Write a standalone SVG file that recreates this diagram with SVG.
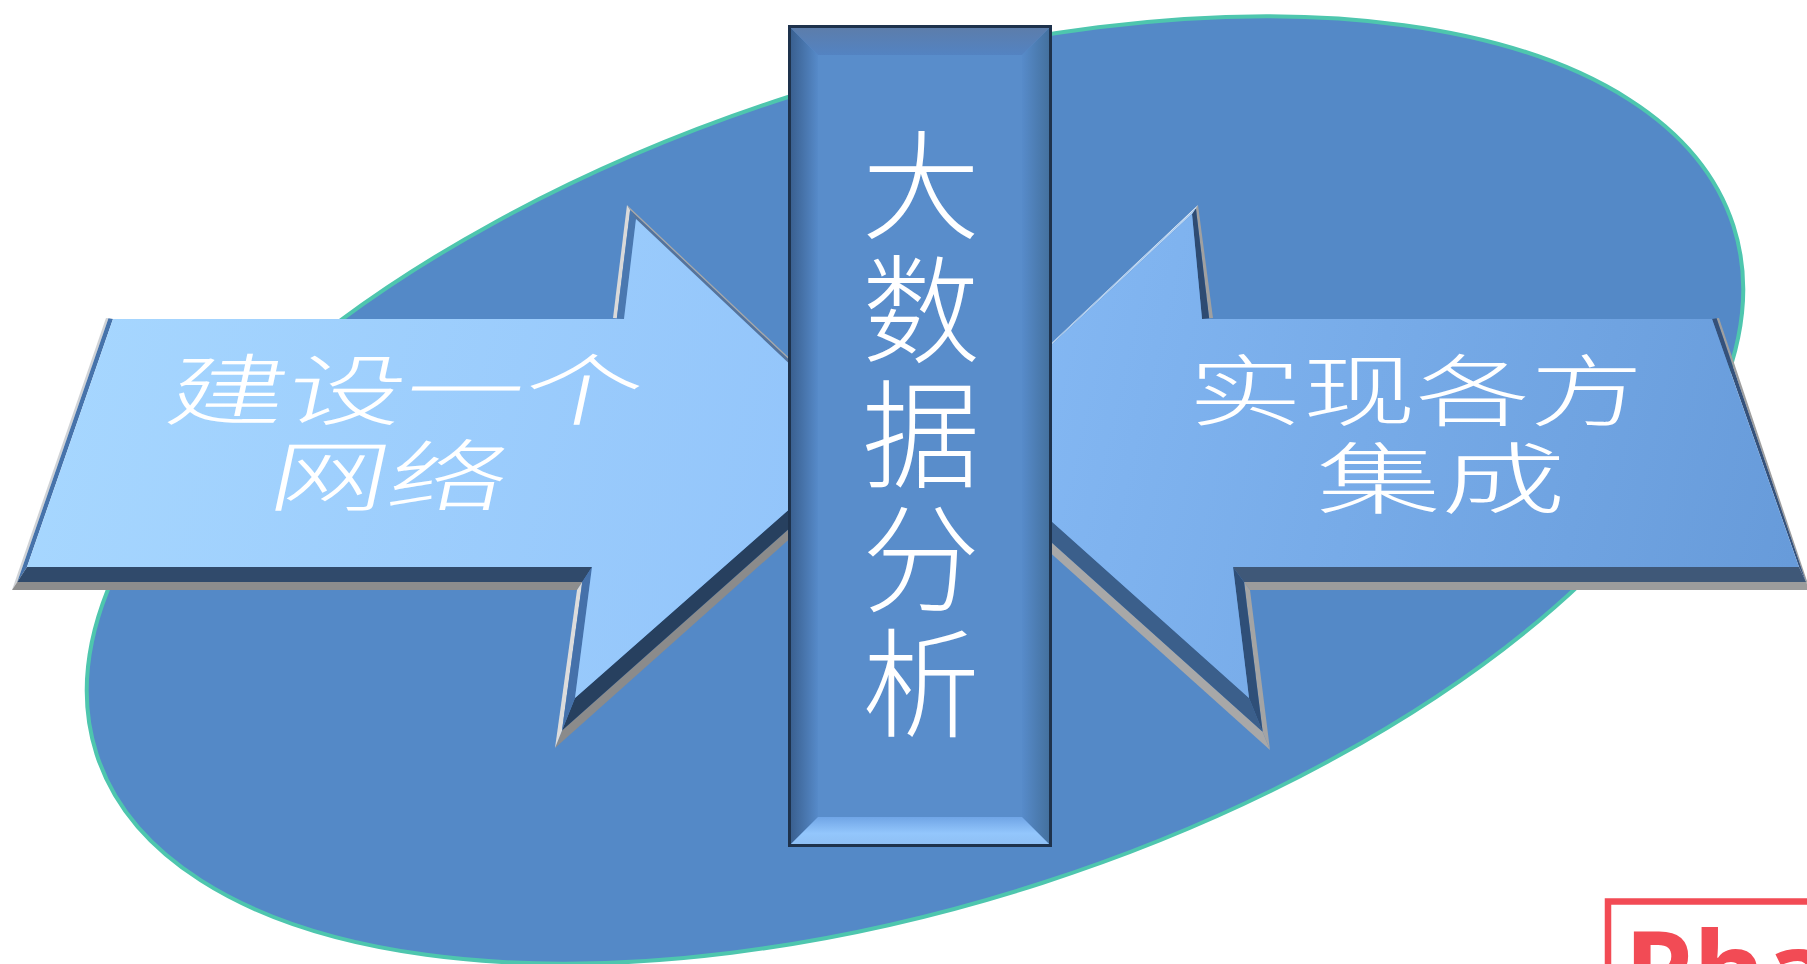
<svg xmlns="http://www.w3.org/2000/svg" width="1807" height="964" viewBox="0 0 1807 964">
<defs>
<style>
.cjk{font-family:"Noto Sans CJK SC","Noto Sans",sans-serif;fill:#ffffff;font-weight:300}
.side{font-size:78px}
.mid{font-size:118px}
.logo{font-family:"Open Sans","Liberation Sans",sans-serif;font-weight:700;font-size:110px;fill:#f24b55}
</style>
<linearGradient id="gLeft" gradientUnits="userSpaceOnUse" x1="12" y1="300" x2="888" y2="500">
<stop offset="0" stop-color="#a8d8ff"/><stop offset="1" stop-color="#91c3fa"/>
</linearGradient>
<linearGradient id="gRight" gradientUnits="userSpaceOnUse" x1="937" y1="300" x2="1807" y2="500">
<stop offset="0" stop-color="#87bbf6"/><stop offset="1" stop-color="#679bda"/>
</linearGradient>
<linearGradient id="gBarL" gradientUnits="userSpaceOnUse" x1="791" y1="0" x2="818" y2="0">
<stop offset="0" stop-color="#3a6090"/><stop offset="1" stop-color="#568ac9"/>
</linearGradient>
<linearGradient id="gBarR" gradientUnits="userSpaceOnUse" x1="1022" y1="0" x2="1049" y2="0">
<stop offset="0" stop-color="#578bca"/><stop offset="1" stop-color="#44719f"/>
</linearGradient>
<linearGradient id="gBarT" gradientUnits="userSpaceOnUse" x1="0" y1="28" x2="0" y2="55">
<stop offset="0" stop-color="#5c7dab"/><stop offset="1" stop-color="#5383c2"/>
</linearGradient>
<linearGradient id="gBarB" gradientUnits="userSpaceOnUse" x1="0" y1="817" x2="0" y2="844">
<stop offset="0" stop-color="#70a5e6"/><stop offset="0.6" stop-color="#93c6fc"/><stop offset="1" stop-color="#8fc0f5"/>
</linearGradient>
</defs>
<rect width="1807" height="964" fill="#ffffff"/>

<g id="background-ellipse">
<ellipse cx="915" cy="490" rx="860" ry="413" transform="rotate(-17.9 915 490)" fill="#5489c7" stroke="#4ec6ae" stroke-width="4"/>
</g>

<g id="left-arrow">
<polygon points="12,590 106,318 108.45,318.35 17.25,581.95" fill="#cfd2d6"/>
<polygon points="17.25,581.95 108.45,318.35 113,319 27,567" fill="#4673ab"/>
<polygon points="613,318 627,205 630.15,209.9 616.85,318.35" fill="#d9d9d9"/>
<polygon points="616.85,318.35 630.15,209.9 636,219 624,319" fill="#4a78b0"/>
<polygon points="627,205 888,451 881.35,446.8 630.15,209.9" fill="#a8a8a8"/>
<polygon points="630.15,209.9 881.35,446.8 869,439 636,219" fill="#56739a"/>
<polygon points="888,451 555,748 562,730.5 881.35,446.8" fill="#8b8b8b"/>
<polygon points="881.35,446.8 562,730.5 575,698 869,439" fill="#27405f"/>
<polygon points="577,590 12,590 17.25,581.95 582.25,581.95" fill="#8d8d8d"/>
<polygon points="582.25,581.95 17.25,581.95 27,567 592,567" fill="#304a6b"/>
<polygon points="555,748 577,590 582.25,581.95 562,730.5" fill="#dcdcdc"/>
<polygon points="562,730.5 582.25,581.95 592,567 575,698" fill="#4571aa"/>
<polygon points="27,567 113,319 624,319 636,219 869,439 575,698 592,567" fill="url(#gLeft)"/>
<g transform="translate(0,463) skewX(-12) scale(1.52,1)"><text class="cjk side" text-anchor="middle"><tspan x="257" y="-44">建设一个</tspan><tspan x="258.4" y="42">网络</tspan></text></g>
</g>

<g id="right-arrow">
<polygon points="1250,590 1810,590 1806.15,581.95 1244.05,581.95" fill="#9c9c9c"/>
<polygon points="1244.05,581.95 1806.15,581.95 1799,567 1233,567" fill="#3f5878"/>
<polygon points="1810,590 1719,318 1716.55,318.35 1806.15,581.95" fill="#9f9f9f"/>
<polygon points="1806.15,581.95 1716.55,318.35 1712,319 1799,567" fill="#35517a"/>
<polygon points="1213,318 1198,205 1195.9,208.15 1209.15,318.35" fill="#a0a0a0"/>
<polygon points="1209.15,318.35 1195.9,208.15 1192,214 1202,319" fill="#2e4b72"/>
<polygon points="1198,205 937,451 943.3,445.4 1195.9,208.15" fill="#eef3f8"/>
<polygon points="1195.9,208.15 943.3,445.4 955,435 1192,214" fill="#b9d6f5"/>
<polygon points="937,451 1270,750 1262.65,731.8 943.3,445.4" fill="#a8a8a8"/>
<polygon points="943.3,445.4 1262.65,731.8 1249,698 955,435" fill="#3b5f8b"/>
<polygon points="1270,750 1250,590 1244.05,581.95 1262.65,731.8" fill="#a4a4a4"/>
<polygon points="1262.65,731.8 1244.05,581.95 1233,567 1249,698" fill="#2f4f78"/>
<polygon points="1233,567 1799,567 1712,319 1202,319 1192,214 955,435 1249,698" fill="url(#gRight)"/>
<g transform="translate(1416,420) scale(1.46,1)"><text class="cjk side" x="0" y="0" text-anchor="middle">实现各方</text></g>
<g transform="translate(1441,508) scale(1.6,1)"><text class="cjk side" x="0" y="0" text-anchor="middle">集成</text></g>
</g>

<g id="center-bar">
<rect x="788" y="25" width="264" height="822" fill="#1e324c"/>
<rect x="791" y="28" width="258" height="816" fill="#598dcb"/>
<polygon points="791,28 818,55 818,817 791,844" fill="url(#gBarL)"/>
<polygon points="1049,28 1022,55 1022,817 1049,844" fill="url(#gBarR)"/>
<polygon points="791,28 1049,28 1022,55 818,55" fill="url(#gBarT)"/>
<polygon points="818,817 1022,817 1049,844 791,844" fill="url(#gBarB)"/>
<text class="cjk mid" x="921" y="126" writing-mode="vertical-rl" letter-spacing="6.5">大数据分析</text>
</g>

<g id="logo">
<rect x="1608" y="901.5" width="260" height="120" fill="#ffffff" stroke="#f24b55" stroke-width="6.5"/>
<text class="logo" x="1624" y="1010">Pha</text>
</g>
</svg>
